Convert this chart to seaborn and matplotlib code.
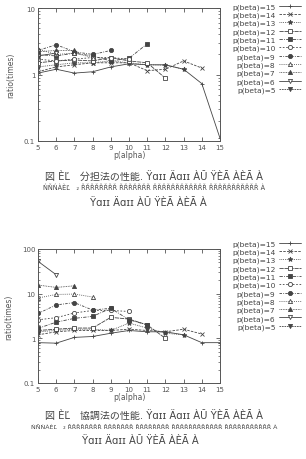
import matplotlib
matplotlib.use("Agg")
import matplotlib.pyplot as plt
import seaborn as sns
import pandas as pd
import numpy as np

# ---------------- data ----------------
betas = [15, 14, 13, 12, 11, 10, 9, 8, 7, 6, 5]
alpha_start = 5

# top chart (分担法)
top_b15 = [1.05, 1.2, 1.05, 1.1, 1.3, 1.45, 1.4, 1.4, 1.2, 0.73, 0.11]
top_b14 = [1.1, 1.3, 1.4, 1.5, 1.5, 1.5, 1.14, 1.2, 1.6, 1.25]
top_b13 = [1.3, 1.4, 1.5, 1.5, 1.6, 1.5, 1.4, 1.38, 1.2]
top_b12 = [1.5, 1.6, 1.65, 1.6, 1.8, 1.6, 1.5, 0.88]
top_b11 = [2.0, 1.9, 2.1, 1.9, 1.6, 1.75, 2.9]
top_b10 = [1.7, 1.6, 1.7, 1.8, 1.8, 1.7]
top_b9 = [2.3, 2.8, 2.2, 2.0, 2.3]
top_b8 = [2.4, 2.0, 2.1, 1.8]
top_b7 = [2.2, 2.3, 2.3]
top_b6 = [1.9, 2.1]
top_b5 = [1.8]

# bottom chart (協調法)
bot_b15 = [0.8, 0.78, 1.05, 1.1, 1.3, 1.5, 1.4, 1.4, 1.2, 0.8, 0.8]
bot_b14 = [1.2, 1.4, 1.5, 1.5, 1.5, 1.6, 1.5, 1.4, 1.6, 1.25]
bot_b13 = [1.4, 1.5, 1.6, 1.6, 1.5, 2.2, 1.7, 1.3, 1.2]
bot_b12 = [1.5, 1.6, 1.7, 1.7, 2.95, 2.7, 2.0, 1.0]
bot_b11 = [1.67, 2.3, 2.8, 3.1, 4.7, 2.6, 2.0]
bot_b10 = [2.6, 2.9, 3.7, 4.2, 4.2, 4.0]
bot_b9 = [3.6, 5.6, 6.3, 4.3, 4.7]
bot_b8 = [8.0, 9.6, 9.8, 8.4]
bot_b7 = [15.6, 13.8, 15.0]
bot_b6 = [53.0, 26.5]
bot_b5 = [1.3]

top_series = [top_b15, top_b14, top_b13, top_b12, top_b11, top_b10,
              top_b9, top_b8, top_b7, top_b6, top_b5]
bot_series = [bot_b15, bot_b14, bot_b13, bot_b12, bot_b11, bot_b10,
              bot_b9, bot_b8, bot_b7, bot_b6, bot_b5]

x_ticks = [5, 6, 7, 8, 9, 10, 11, 12, 13, 14, 15]
top_yticks = [0.1, 1, 10]
top_ylabels = ["0.1", "1", "10"]
bot_yticks = [0.1, 1, 10, 100]
bot_ylabels = ["0.1", "1", "10", "100"]

cap1_l1 = "図 ÈĽ　分担法の性能. Ÿɑɪɪ Äɑɪɪ ÀŬ ŸÈĀ ÀÈĀ À"
cap1_l2 = "ŃŇŃÀÈĽ　₂ ŘŘŘŘŘŘŘŘ ŘŘŘŘŘŘŘ ŘŘŘŘŘŘŘŘŘŘŘŘ ŘŘŘŘŘŘŘŘŘŘŘ À"
cap1_l3 = "Ÿɑɪɪ Äɑɪɪ ÀŬ ŸÈĀ ÀÈĀ À"
cap2_l1 = "図 ÈĽ　協調法の性能. Ÿɑɪɪ Äɑɪɪ ÀŬ ŸÈĀ ÀÈĀ À"
cap2_l2 = "ŃŇŃÀÈĽ　₂ ŘŘŘŘŘŘŘŘ ŘŘŘŘŘŘŘ ŘŘŘŘŘŘŘŘ ŘŘŘŘŘŘŘŘŘŘŘŘ ŘŘŘŘŘŘŘŘŘŘŘ À"
cap2_l3 = "Ÿɑɪɪ Äɑɪɪ ÀŬ ŸÈĀ ÀÈĀ À"

# ---------------- style ----------------
sns.set_style("ticks")
plt.rcParams['font.family'] = ['DejaVu Sans', 'Noto Sans CJK JP']
GRAY = "#555555"
LINE = "#444444"
plt.rcParams.update({
    "axes.edgecolor": GRAY, "xtick.color": GRAY, "ytick.color": GRAY,
    "text.color": "#444444", "axes.labelcolor": "#555555",
    "xtick.direction": "in", "ytick.direction": "in",
    "xtick.top": True, "ytick.right": True,
    "xtick.minor.top": True, "ytick.minor.right": True,
})

styles = {
    15: dict(marker="+", linestyle="-", mfc=LINE, ms=3.5),
    14: dict(marker="x", linestyle=(0, (3, 1.5)), mfc=LINE, ms=3),
    13: dict(marker="*", linestyle=(0, (1, 1.2)), mfc=LINE, ms=3.5),
    12: dict(marker="s", linestyle=(0, (5, 1)), mfc="white", ms=3.2),
    11: dict(marker="s", linestyle=(0, (4, 1.5, 1, 1.5)), mfc=LINE, ms=3.2),
    10: dict(marker="o", linestyle=(0, (2, 2)), mfc="white", ms=3),
    9: dict(marker="o", linestyle=(0, (3, 1.5, 1, 1.5)), mfc=LINE, ms=3),
    8: dict(marker="^", linestyle=(0, (1, 1.5)), mfc="white", ms=3),
    7: dict(marker="^", linestyle=(0, (1, 1)), mfc=LINE, ms=3),
    6: dict(marker="v", linestyle="-", mfc="white", ms=3),
    5: dict(marker="v", linestyle=(0, (2, 1)), mfc=LINE, ms=3),
}

fig = plt.figure(figsize=(3.06, 4.6), dpi=100)
ax1 = fig.add_axes([38 / 306, 1 - 142 / 460, 182 / 306, 133 / 460])
ax2 = fig.add_axes([38 / 306, 1 - 384 / 460, 182 / 306, 134 / 460])


def draw(ax, series, ylim, yticks, ylabels, leg_y):
    for b, vals in zip(betas, series):
        df = pd.DataFrame({"alpha": x_ticks[:len(vals)], "ratio": vals})
        st = styles[b]
        sns.lineplot(data=df, x="alpha", y="ratio", ax=ax, color=LINE,
                     linewidth=0.6, marker=st["marker"], markersize=st["ms"],
                     markerfacecolor=st["mfc"], markeredgecolor=LINE,
                     markeredgewidth=0.6, linestyle=st["linestyle"],
                     label=f"p(beta)={b}")
    ax.set_yscale("log")
    ax.set_ylim(*ylim)
    ax.set_xlim(5, 15)
    ax.set_xticks(x_ticks)
    ax.set_xticklabels([str(t) for t in x_ticks])
    ax.set_yticks(yticks)
    ax.set_yticklabels(ylabels)
    ax.tick_params(labelsize=5, length=3, width=0.6, pad=2)
    ax.tick_params(which="minor", length=1.5, width=0.5)
    ax.set_xlabel("p(alpha)", fontsize=5.5, labelpad=0)
    ax.set_ylabel("ratio(times)", fontsize=5.5, labelpad=6)
    for sp in ax.spines.values():
        sp.set_linewidth(0.7)
    leg = ax.legend(loc="upper left", bbox_to_anchor=(1.05, leg_y),
                    markerfirst=False, frameon=False, fontsize=5.4,
                    handlelength=2.9, handletextpad=0.5, labelspacing=0.21,
                    borderaxespad=0)
    for t in leg.get_texts():
        t.set_color("#444444")


draw(ax1, top_series, (0.1, 10), top_yticks, top_ylabels, 1.06)
draw(ax2, bot_series, (0.1, 100), bot_yticks, bot_ylabels, 1.09)

cx = 154 / 306
fig.text(cx, 1 - 176 / 460, cap1_l1, ha="center", va="center", fontsize=7.2)
fig.text(cx, 1 - 188 / 460, cap1_l2, ha="center", va="center", fontsize=4.7)
fig.text(148 / 306, 1 - 203 / 460, cap1_l3, ha="center", va="center", fontsize=7.2)
fig.text(cx, 1 - 415 / 460, cap2_l1, ha="center", va="center", fontsize=7.2)
fig.text(cx, 1 - 427 / 460, cap2_l2, ha="center", va="center", fontsize=4.5)
fig.text(140 / 306, 1 - 441 / 460, cap2_l3, ha="center", va="center", fontsize=7.2)

fig.savefig("out.png", dpi=100)
